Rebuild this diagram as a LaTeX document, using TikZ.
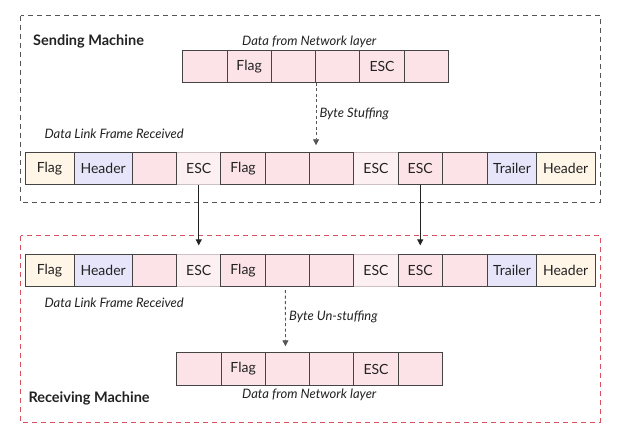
\documentclass[tikz,border=0pt]{standalone}
\usepackage{fontspec}
\setmainfont{Lato}
\usetikzlibrary{arrows.meta}
\definecolor{pk}{HTML}{FCE3E8}
\definecolor{lpk}{HTML}{FDF0F3}
\definecolor{lpkedge}{HTML}{CDBFC3}
\definecolor{cream}{HTML}{FFF6E8}
\definecolor{lav}{HTML}{E6E5FA}
\definecolor{edge}{HTML}{444444}
\definecolor{txt}{HTML}{222222}
\definecolor{sendc}{HTML}{555555}
\definecolor{recvc}{HTML}{D9505E}
\tikzset{
  cell/.style={draw=edge, line width=0.9pt, inner sep=0pt, text=txt, font=\fontsize{14}{16}\selectfont},
  lcell/.style={cell, draw=lpkedge, fill=lpk},
  lbl/.style={inner sep=0pt, text=txt, font=\fontsize{13}{15}\selectfont\itshape},
  title/.style={inner sep=0pt, text=txt, anchor=west, font=\fontsize{14.5}{16}\selectfont\bfseries},
  frame/.style={line width=0.8pt, dash pattern=on 5pt off 4pt},
  arr/.style={line width=0.8pt, -{Triangle[length=6pt,width=6pt]}},
}
\begin{document}
\begin{tikzpicture}[x=1pt,y=-1pt]
\useasboundingbox[fill=white] (0,0) rectangle (621,434);
% machine frames
\draw[frame, draw=sendc] (20.5,15.5) rectangle (600,202.5);
\draw[frame, draw=recvc] (20.5,235.5) rectangle (600,422);
% top data row
\foreach \i/\t in {1/,2/Flag,3/,4/,5/ESC,6/}{
  \node[cell, fill=pk, minimum width=44.3pt, minimum height=31.6pt] (d\i) at ({182.7+44.3*(\i-0.5)},66.5) {\t};
}
% bottom data row
\foreach \i/\t in {1/,2/Flag,3/,4/,5/ESC,6/}{
  \node[cell, fill=pk, minimum width=44.3pt, minimum height=32.6pt] (b\i) at ({176.7+44.3*(\i-0.5)},369) {\t};
}
% frame rows
\foreach \r/\y/\h in {f/168.5/31.6, r/270.5/32.4}{
  \foreach \i in {4,8}{
    \node[lcell, minimum width=44.3pt, minimum height=\h pt] (\r\i) at ({132.3+44.3*(\i-2.5)},\y) {ESC};
  }
  \node[cell, fill=cream, minimum width=49pt, minimum height=\h pt] (\r1) at (49.5,\y) {Flag};
  \node[cell, fill=lav, minimum width=58.3pt, minimum height=\h pt] (\r2) at (103.15,\y) {Header};
  \foreach \i/\t in {3/,5/Flag,6/,7/,9/ESC}{
    \node[cell, fill=pk, minimum width=44.3pt, minimum height=\h pt] (\r\i) at ({132.3+44.3*(\i-2.5)},\y) {\t};
  }
  \node[cell, fill=pk, minimum width=45pt, minimum height=\h pt] (\r10) at (465.2,\y) {};
  \node[cell, fill=lav, minimum width=48.6pt, minimum height=\h pt] (\r11) at (512,\y) {Trailer};
  \node[cell, fill=cream, minimum width=58.7pt, minimum height=\h pt] (\r12) at (565.65,\y) {Header};
}
% labels
\node[title] (st) at (33,41) {Sending Machine};
\node[title] (rt) at (28.3,398.5) {Receiving Machine};
\node[lbl] (l1) at (309.3,41.5) {Data from Network layer};
\node[lbl, anchor=west] (l2) at (319.3,113.5) {Byte Stuffing};
\node[lbl, anchor=west] (l3) at (44.3,133.5) {Data Link Frame Received};
\node[lbl, anchor=west] (l4) at (44.3,302.7) {Data Link Frame Received};
\node[lbl, anchor=west] (l5) at (289,316.7) {Byte Un-stuffing};
\node[lbl] (l6) at (309.3,394.5) {Data from Network layer};
% connectors
\draw[arr, dash pattern=on 3pt off 2.5pt, draw=sendc, shorten >=8pt] (d3.south east) -- ([yshift=-1pt]d3.south east |- f7.north);
\draw[arr, draw=txt, shorten >=8.5pt] (f4.south) -- (r4.north);
\draw[arr, draw=txt, shorten >=8.5pt] (f9.south) -- (r9.north);
\draw[arr, dash pattern=on 3pt off 2.5pt, draw=sendc, shorten <=3pt, shorten >=6pt] ([xshift=-2pt]r6.south) -- ([xshift=-2pt]b3.north);
\end{tikzpicture}
\end{document}
